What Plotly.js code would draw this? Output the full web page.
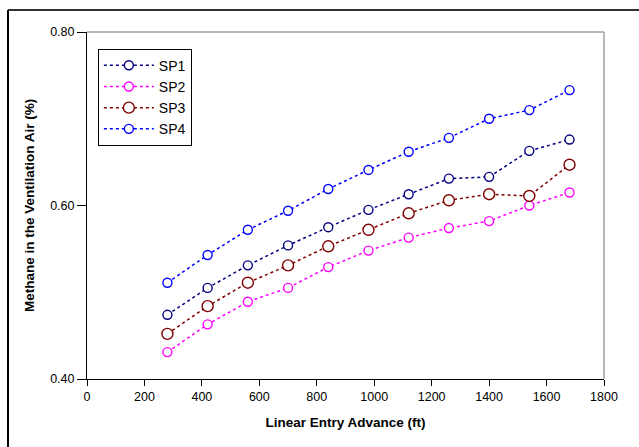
<!DOCTYPE html>
<html>
<head>
<meta charset="utf-8">
<script src="https://cdn.plot.ly/plotly-3.0.1.min.js"></script>
<style>
html,body{margin:0;padding:0;background:#fff;}
#chart{width:639px;height:447px;}
</style>
</head>
<body>
<div id="chart"></div>
<script>
const xAdvance = [280, 420, 560, 700, 840, 980, 1120, 1260, 1400, 1540, 1680];
const sp1 = [0.474, 0.505, 0.531, 0.554, 0.575, 0.595, 0.613, 0.631, 0.633, 0.663, 0.676];
const sp2 = [0.431, 0.463, 0.489, 0.505, 0.529, 0.548, 0.563, 0.574, 0.582, 0.600, 0.615];
const sp3 = [0.452, 0.484, 0.511, 0.531, 0.553, 0.572, 0.591, 0.606, 0.613, 0.611, 0.647];
const sp4 = [0.511, 0.543, 0.572, 0.594, 0.619, 0.641, 0.662, 0.678, 0.700, 0.710, 0.733];
const seriesNames = ["SP1", "SP2", "SP3", "SP4"];
const yTickVals = [0.40, 0.60, 0.80];
const xTickVals = [0, 200, 400, 600, 800, 1000, 1200, 1400, 1600, 1800];

const colors = ["#000080", "#FF00FF", "#800000", "#0000FF"];
const sizes = [9, 9, 11, 9];
const data = [sp1, sp2, sp3, sp4].map((ys, i) => ({
  x: xAdvance, y: ys, name: seriesNames[i], type: "scatter", mode: "lines+markers",
  line: {color: colors[i], width: 1.5, dash: "dot"},
  marker: {symbol: "circle", size: sizes[i], color: "#fff", line: {width: 1.4, color: colors[i]}}
}));

const font = "Liberation Sans, Arial, sans-serif";
const layout = {
  width: 639, height: 447,
  margin: {l: 87, r: 35, t: 32, b: 68, pad: 0},
  paper_bgcolor: "#fff", plot_bgcolor: "#fff",
  font: {family: font, size: 12, color: "#000"},
  showlegend: true,
  legend: {
    x: 0.021, y: 0.952, xanchor: "left", yanchor: "top",
    bordercolor: "#000", borderwidth: 1, bgcolor: "#fff",
    font: {family: font, size: 14, color: "#000"},
    tracegroupgap: 0, itemwidth: 50
  },
  xaxis: {
    range: [0, 1800], tickvals: xTickVals, ticktext: xTickVals.map(String),
    showgrid: false, zeroline: false, showline: true, linecolor: "#000", linewidth: 1,
    ticks: "outside", ticklen: 6, tickcolor: "#000",
    tickfont: {family: font, size: 12.5},
    title: {text: "<b>Linear Entry Advance (ft)</b>", font: {family: font, size: 13.5}, standoff: 14}
  },
  yaxis: {
    range: [0.4, 0.8], tickvals: yTickVals, ticktext: yTickVals.map(v => v.toFixed(2)),
    showgrid: false, zeroline: false, showline: true, linecolor: "#000", linewidth: 1,
    ticks: "outside", ticklen: 9, tickcolor: "#000",
    tickfont: {family: font, size: 12.5},
    title: {text: "<b>Methane in the Ventilation Air (%)</b>", font: {family: font, size: 13.5}, standoff: 12}
  },
  shapes: [
    {type: "line", xref: "paper", yref: "paper", x0: 0, x1: 1, y0: 1, y1: 1, line: {color: "#a0a0a0", width: 1.5}},
    {type: "line", xref: "paper", yref: "paper", x0: 1, x1: 1, y0: 0, y1: 1, line: {color: "#a0a0a0", width: 1.5}},
    {type: "line", xref: "paper", yref: "paper", x0: -0.1528, x1: 1.2, y0: 1.0634, y1: 1.0634, line: {color: "#333", width: 2}},
    {type: "line", xref: "paper", yref: "paper", x0: -0.1528, x1: -0.1528, y0: -0.3, y1: 1.0634, line: {color: "#000", width: 2}}
  ]
};

Plotly.newPlot("chart", data, layout, {displayModeBar: false, staticPlot: true});
</script>
</body>
</html>
